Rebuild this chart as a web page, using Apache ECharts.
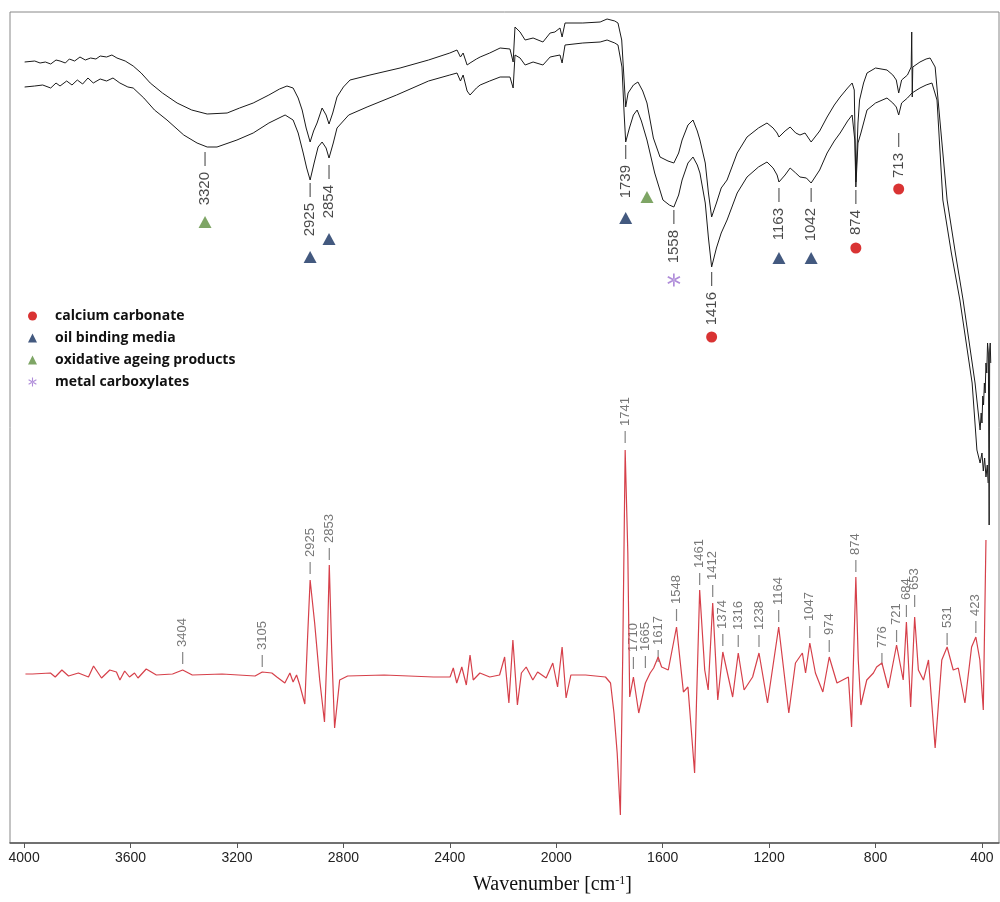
<!DOCTYPE html>
<html>
<head>
<meta charset="utf-8">
<script src="https://cdn.jsdelivr.net/npm/echarts@6/dist/echarts.min.js"></script>
<style>html,body{margin:0;padding:0;background:#fff}#chart{width:1000px;height:902px}</style>
</head>
<body>
<div id="chart"></div>
<script>
// wavenumber ticks
var tickValues = [4000, 3600, 3200, 2800, 2400, 2000, 1600, 1200, 800, 400];

// upper FTIR trace [wavenumber, intensity]
var upperTrace = [[3998,781],[3960,782],[3940,780],[3920,781],[3900,779],[3880,783],[3865,782],[3845,780],[3830,784],[3810,782],[3790,786],[3770,783],[3750,785],[3730,784],[3714,787],[3690,786],[3670,788],[3651,785],[3620,782],[3590,777],[3560,770],[3526,760],[3480,750],[3425,740],[3370,733],[3312,729],[3237,730],[3190,735],[3139,740],[3080,748],[3040,754],[3012,757],[2989,755],[2970,745],[2955,733],[2940,715],[2925,701],[2912,712],[2899,720],[2880,735],[2865,728],[2854,719],[2840,730],[2824,746],[2800,756],[2775,763],[2700,768],[2587,775],[2480,783],[2400,790],[2373,793],[2360,786],[2350,790],[2335,778],[2324,780],[2300,784],[2286,786],[2250,790],[2211,795],[2174,794],[2162,781],[2155,816],[2136,811],[2117,803],[2087,805],[2050,801],[2023,810],[2005,811],[1986,815],[1978,806],[1967,820],[1900,820],[1835,821],[1809,824],[1780,822],[1768,820],[1754,803],[1739,736],[1730,750],[1710,758],[1693,761],[1675,752],[1659,740],[1635,705],[1610,686],[1580,682],[1558,680],[1540,690],[1527,703],[1505,718],[1486,723],[1470,712],[1460,703],[1440,680],[1428,650],[1416,626],[1398,640],[1380,655],[1358,663],[1320,690],[1283,706],[1240,715],[1208,720],[1185,715],[1170,710],[1163,706],[1140,712],[1121,716],[1100,710],[1084,708],[1065,710],[1042,701],[1010,712],[982,726],[955,738],[933,746],[905,755],[888,760],[880,753],[874,661],[866,720],[860,743],[845,760],[832,770],[800,775],[757,773],[735,768],[722,763],[713,750],[702,763],[680,768],[666,776],[664,811],[662,746],[660,776],[633,781],[610,784],[595,785],[576,776],[565,743],[531,643],[500,590],[471,543],[426,460],[407,413],[403,430],[400,420],[397,447],[394,438],[391,460],[388,450],[385,480],[382,470],[379,500],[376,490],[373,318],[371,493],[369,500],[367,480]];

// lower FTIR trace
var lowerTrace = [[3998,756],[3960,757],[3930,758],[3900,755],[3880,760],[3865,757],[3840,762],[3820,758],[3800,763],[3780,759],[3760,765],[3740,760],[3714,764],[3690,762],[3666,765],[3640,760],[3610,756],[3590,755],[3550,745],[3510,733],[3463,723],[3400,708],[3350,700],[3312,696],[3275,696],[3200,703],[3139,710],[3080,720],[3019,728],[2989,723],[2970,710],[2951,690],[2938,675],[2925,663],[2910,680],[2895,696],[2880,701],[2865,695],[2854,685],[2838,700],[2824,715],[2780,728],[2711,736],[2600,748],[2480,762],[2400,768],[2373,770],[2360,762],[2350,768],[2335,752],[2324,748],[2300,755],[2286,758],[2250,762],[2211,766],[2174,766],[2162,755],[2155,788],[2136,785],[2117,778],[2087,781],[2050,778],[2023,786],[2005,787],[1986,788],[1978,780],[1967,798],[1900,800],[1835,801],[1809,803],[1780,800],[1768,798],[1753,776],[1745,730],[1739,701],[1725,715],[1710,728],[1696,733],[1680,722],[1659,703],[1630,670],[1599,643],[1575,638],[1558,636],[1540,648],[1527,663],[1505,680],[1486,686],[1470,678],[1460,670],[1440,640],[1428,605],[1416,576],[1398,595],[1380,610],[1358,623],[1320,650],[1283,666],[1240,676],[1208,681],[1185,675],[1170,668],[1163,661],[1140,668],[1121,675],[1100,670],[1084,666],[1060,665],[1042,660],[1010,673],[982,690],[955,702],[933,710],[905,722],[888,728],[878,703],[874,656],[866,700],[855,710],[832,733],[800,740],[757,745],[735,740],[722,736],[713,728],[702,740],[680,745],[663,750],[633,755],[610,758],[588,760],[569,743],[547,643],[515,590],[483,543],[437,460],[419,393],[407,380],[400,390],[395,372],[390,385],[385,366],[380,378],[377,360]];

// second-derivative trace
var derivTrace = [[3995,169],[3969,169],[3901,170],[3883,166],[3858,173],[3833,167],[3796,170],[3758,166],[3739,177],[3709,165],[3678,173],[3653,171],[3640,163],[3622,172],[3604,166],[3585,170],[3572,165],[3541,174],[3503,168],[3442,169],[3404,173],[3368,168],[3256,169],[3132,167],[3105,171],[3069,170],[3050,166],[3020,160],[3001,170],[2989,161],[2976,168],[2964,158],[2945,139],[2935,203],[2925,263],[2908,220],[2889,163],[2871,121],[2860,203],[2853,278],[2844,193],[2833,115],[2814,163],[2784,167],[2647,168],[2461,166],[2399,166],[2387,175],[2374,160],[2355,176],[2338,158],[2324,188],[2312,163],[2287,170],[2250,166],[2213,168],[2194,186],[2178,140],[2163,203],[2146,138],[2131,170],[2113,176],[2088,163],[2070,171],[2038,165],[2013,180],[1995,156],[1978,196],[1963,145],[1945,168],[1890,168],[1815,166],[1796,160],[1783,130],[1771,90],[1759,28],[1750,190],[1741,393],[1731,290],[1724,146],[1710,166],[1690,130],[1665,160],[1647,170],[1634,175],[1617,186],[1604,176],[1579,173],[1548,216],[1522,151],[1505,156],[1480,70],[1473,140],[1461,253],[1442,173],[1429,153],[1412,240],[1393,143],[1374,191],[1337,146],[1316,190],[1294,153],[1262,166],[1238,190],[1206,140],[1164,216],[1126,130],[1101,180],[1075,190],[1063,170],[1047,200],[1026,170],[998,151],[974,186],[945,160],[902,166],[890,116],[874,266],[865,183],[855,138],[833,163],[808,170],[796,176],[776,180],[752,155],[721,198],[696,163],[684,221],[668,136],[653,226],[639,173],[620,163],[601,183],[576,95],[551,183],[531,196],[508,173],[489,175],[464,140],[439,196],[423,206],[408,183],[395,133],[385,303]];

// band assignments on the upper traces
var bandWn = [3320, 2925, 2854, 1739, 1558, 1416, 1163, 1042, 874, 713];
var bandLabels = ['3320', '2925', '2854', '1739', '1558', '1416', '1163', '1042', '874', '713'];
var bandTickLevel = [684, 653, 671, 691, 626, 564, 648, 648, 646, 703];

// peaks of the derivative trace
var derivPeakWn = [3404, 3105, 2925, 2853, 1741, 1710, 1665, 1617, 1548, 1461, 1412, 1374, 1316, 1238, 1164, 1047, 974, 874, 776, 721, 684, 653, 531, 423];
var derivPeakLabels = ['3404', '3105', '2925', '2853', '1741', '1710', '1665', '1617', '1548', '1461', '1412', '1374', '1316', '1238', '1164', '1047', '974', '874', '776', '721', '684', '653', '531', '423'];
var derivTickLevel = [185, 182, 275, 289, 406, 180, 181, 187, 228, 264, 252, 203, 202, 202, 227, 211, 197, 277, 184, 207, 232, 242, 204, 216];

// marker groups
var carbonatePts = [[1416, 506], [874, 595], [713, 654]];
var oilPts = [[2925, 586], [2854, 604], [1739, 625], [1163, 585], [1042, 585]];
var ageingPts = [[3320, 621], [1659, 646]];
var carboxylatePts = [[1558, 563]];

var asterisk = 'path://M-1.2,-10L1.2,-10L1.2,10L-1.2,10Z M8.06,6.04L9.26,3.96L-8.06,-6.04L-9.26,-3.96Z M9.26,-3.96L8.06,-6.04L-9.26,3.96L-8.06,6.04Z';

var myChart = echarts.init(document.getElementById('chart'));

function zip(xs, ys) {
	return xs.map(function (x, i) { return [x, ys[i]]; });
}

var option = {
	animation: false,
	grid: {
		top: 12, left: 10, right: 1, bottom: 59,
		show: true, borderColor: '#888', borderWidth: 1
	},
	legend: {
		orient: 'vertical', left: 28, top: 308, padding: 0,
		itemWidth: 9, itemHeight: 9, itemGap: 6,
		selectedMode: false,
		data: ['calcium carbonate', 'oil binding media', 'oxidative ageing products', 'metal carboxylates'],
		textStyle: {
			fontFamily: 'Open Sans', fontWeight: 'bold', fontSize: 14, color: '#111',
			lineHeight: 16, padding: [0, 0, 0, 13]
		}
	},
	xAxis: {
		type: 'value', inverse: true, min: 336, max: 4053,
		splitLine: { show: false },
		axisLine: { lineStyle: { color: '#555', width: 1.5 } },
		axisTick: { customValues: tickValues, length: 5, lineStyle: { color: '#555' } },
		axisLabel: {
			customValues: tickValues, margin: 8,
			fontFamily: 'Liberation Sans', fontSize: 14, color: '#222',
			formatter: function (v) { return String(v); }
		},
		name: '{a|Wavenumber [cm}{s|-1}{a|]}',
		nameLocation: 'middle', nameGap: 32,
		nameTextStyle: {
			padding: [0, 0, 0, 96],
			rich: {
				a: { fontFamily: 'Liberation Serif', fontSize: 20, color: '#111' },
				s: { fontFamily: 'Liberation Serif', fontSize: 12, color: '#111', verticalAlign: 'top' }
			}
		}
	},
	yAxis: { type: 'value', min: 0, max: 831, show: false, splitLine: { show: false } },
	series: [
		{
			type: 'line', data: upperTrace, showSymbol: false, symbol: 'none',
			lineStyle: { color: '#1a1a1a', width: 1 }, silent: true
		},
		{
			type: 'line', data: lowerTrace, showSymbol: false, symbol: 'none',
			lineStyle: { color: '#1a1a1a', width: 1 }, silent: true
		},
		{
			type: 'line', data: derivTrace, showSymbol: false, symbol: 'none',
			lineStyle: { color: '#d6404a', width: 1.2 }, silent: true
		},
		{
			type: 'scatter', data: zip(bandWn, bandTickLevel), silent: true,
			symbol: 'rect', symbolSize: [1.2, 14], itemStyle: { color: '#333' },
			label: {
				show: true, position: 'bottom', distance: 6, rotate: 90,
				align: 'right', verticalAlign: 'middle',
				fontFamily: 'Liberation Sans', fontSize: 15, color: '#1a1a1a',
				formatter: function (p) { return bandLabels[p.dataIndex]; }
			}
		},
		{
			type: 'scatter', data: zip(derivPeakWn, derivTickLevel), silent: true,
			symbol: 'rect', symbolSize: [1.2, 12], itemStyle: { color: '#666' },
			label: {
				show: true, position: 'top', distance: 5, rotate: 90,
				align: 'left', verticalAlign: 'middle',
				fontFamily: 'Liberation Sans', fontSize: 13, color: '#555',
				formatter: function (p) { return derivPeakLabels[p.dataIndex]; }
			}
		},
		{
			name: 'calcium carbonate', type: 'scatter', data: carbonatePts,
			symbol: 'circle', symbolSize: 11, itemStyle: { color: '#d00000' }
		},
		{
			name: 'oil binding media', type: 'scatter', data: oilPts,
			symbol: 'triangle', symbolSize: [13, 12], itemStyle: { color: '#14305f' }
		},
		{
			name: 'oxidative ageing products', type: 'scatter', data: ageingPts,
			symbol: 'triangle', symbolSize: [13, 12], itemStyle: { color: '#5e8f3e' }
		},
		{
			name: 'metal carboxylates', type: 'scatter', data: carboxylatePts,
			symbol: asterisk, symbolSize: 13, itemStyle: { color: '#9b6fd0' }
		}
	]
};

myChart.setOption(option);
</script>
</body>
</html>
